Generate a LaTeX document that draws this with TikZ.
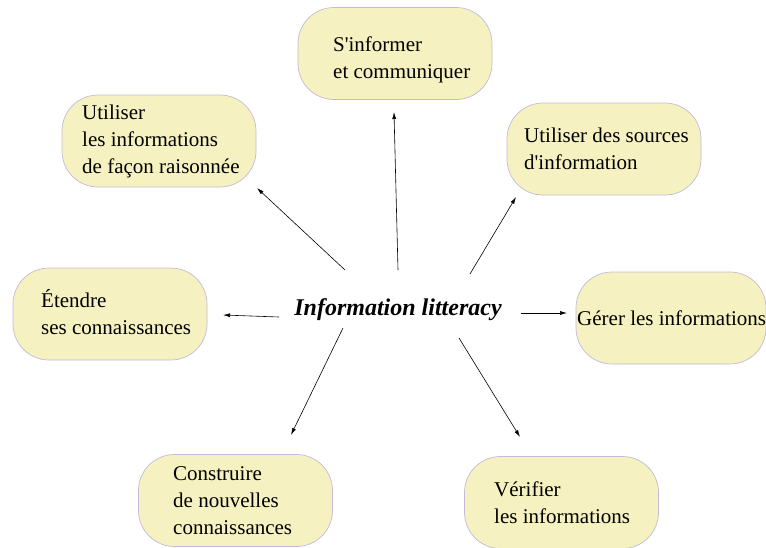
\documentclass[tikz,border=0pt]{standalone}
\usepackage{fontspec}
\setmainfont{Liberation Serif}
\usetikzlibrary{arrows.meta}
\definecolor{boxfill}{HTML}{F6F1C0}
\definecolor{boxline}{HTML}{C2BAD6}
\begin{document}
\begin{tikzpicture}[x=1pt,y=-1pt,
  topictext/.style={anchor=west, align=left, inner sep=0pt, font=\fontsize{21}{27}\selectfont},
  topic/.style={draw=boxline, fill=boxfill, line width=0.7pt, inner sep=0pt,
    rounded corners=36pt, minimum width=194pt, minimum height=92pt},
  link/.style={line width=0.6pt, -{Latex[length=7pt,width=4pt]}}]
\useasboundingbox (0,0) rectangle (766,547);

% central theme
\node (centre) at (398,310) {\fontsize{24}{28}\selectfont\bfseries\itshape Information litteracy};

% rounded boxes
\node[topic] (informerbox)   at (395,53.5) {};
\node[topic] (utiliserbox)   at (159,141) {};
\node[topic] (sourcesbox)    at (604,149) {};
\node[topic] (etendrebox)    at (110,314) {};
\node[topic, minimum width=190pt] (gererbox) at (671,318) {};
\node[topic] (construirebox) at (235.5,500.5) {};
\node[topic] (verifierbox)   at (561.5,502.5) {};

% box captions
\node[topictext] (informer)   at (333,60)    {S\textquotesingle informer\\et communiquer};
\node[topictext] (utiliser)   at (82,141)    {Utiliser\\les informations\\de façon raisonnée};
\node[topictext] (sources)    at (524,149)   {Utiliser des sources\\d\textquotesingle information};
\node[topictext] (etendre)    at (41,312)    {Étendre\\ses connaissances};
\node[topictext] (gerer)      at (577,318)   {Gérer les informations};
\node[topictext] (construire) at (173,500.5) {Construire\\de nouvelles\\connaissances};
\node[topictext] (verifier)   at (494,502.5) {Vérifier\\les informations};

% arrow ends
\coordinate (t1) at (398,270); \coordinate (h1) at (394,112);
\coordinate (t2) at (345,270); \coordinate (h2) at (257,188);
\coordinate (t3) at (470,274); \coordinate (h3) at (516,197);
\coordinate (t4) at (279,317); \coordinate (h4) at (223,315);
\coordinate (t5) at (521,313); \coordinate (h5) at (567,313);
\coordinate (t6) at (343,328); \coordinate (h6) at (291,435);
\coordinate (t7) at (459,338); \coordinate (h7) at (520,437);

\draw[link] (t1) -- (h1);
\draw[link] (t2) -- (h2);
\draw[link] (t3) -- (h3);
\draw[link] (t4) -- (h4);
\draw[link] (t5) -- (h5);
\draw[link] (t6) -- (h6);
\draw[link] (t7) -- (h7);
\end{tikzpicture}
\end{document}
